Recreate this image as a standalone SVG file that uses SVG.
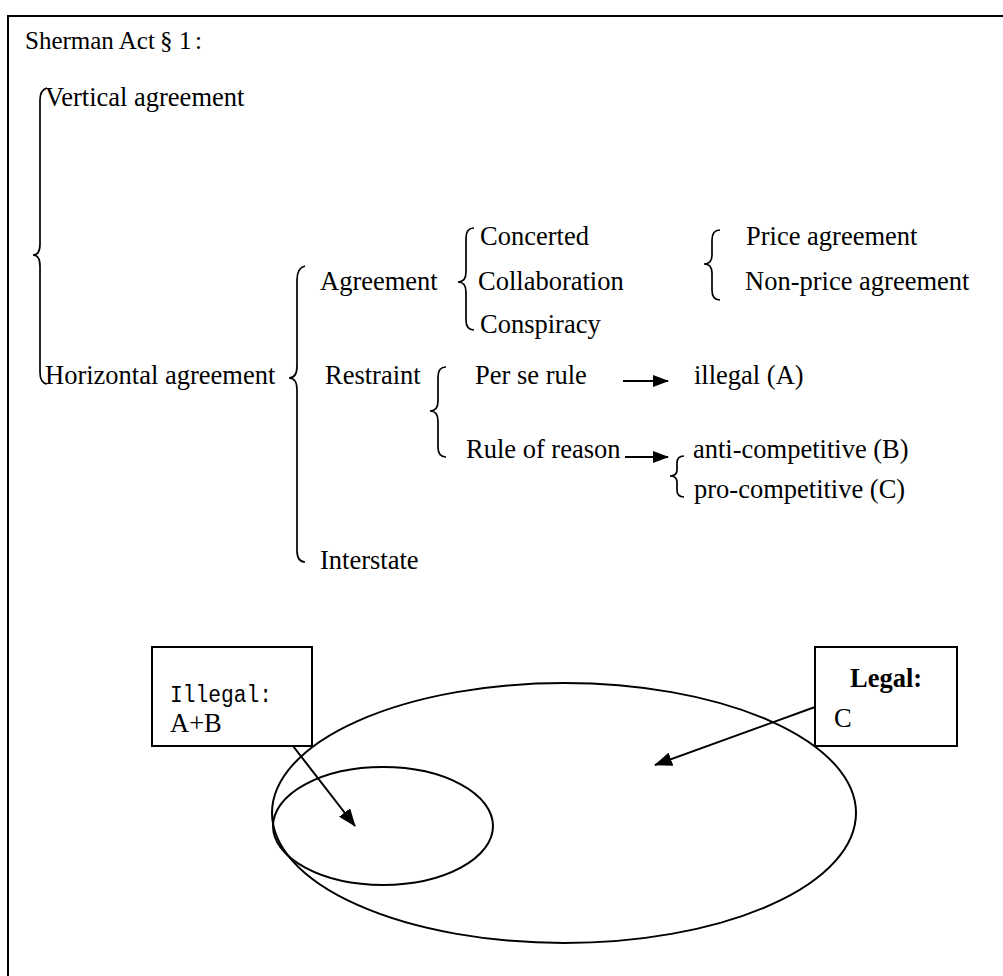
<svg xmlns="http://www.w3.org/2000/svg" width="1003" height="976" viewBox="0 0 1003 976">
<defs>
<style>
.t{font-family:"Liberation Serif","Times New Roman",serif;font-size:26.5px;fill:#000}
.ti{font-family:"Liberation Serif","Times New Roman",serif;font-size:25px;fill:#000}
.m{font-family:"Liberation Mono","Courier New",monospace;font-size:23px;fill:#000}
.b{font-weight:bold}
.s{fill:none;stroke:#000;stroke-width:2}
.br{fill:none;stroke:#000;stroke-width:1.7}
</style>
<marker id="ah" viewBox="0 0 16 12" refX="15" refY="6" markerWidth="16" markerHeight="12" orient="auto" markerUnits="userSpaceOnUse">
<path d="M0,0 L16,6 L0,12 z" fill="#000"/>
</marker>
<marker id="ahl" viewBox="0 0 18 14" refX="17" refY="7" markerWidth="18" markerHeight="14" orient="auto" markerUnits="userSpaceOnUse">
<path d="M0,0 L18,7 L0,14 z" fill="#000"/>
</marker>
</defs>
<rect width="1003" height="976" fill="#fff"/>
<g id="frame">
<path class="s" d="M8,976 L8,16 L1003,16"/>
</g>
<g id="title"><text class="ti" y="49"><tspan x="25">Sherman Act</tspan><tspan x="160">§</tspan><tspan x="179">1</tspan><tspan x="195">:</tspan></text></g>
<g id="braces">
<path class="br" d="M47,88 Q40,90 40,100 L40,244 Q40,255 33,255 Q40,255 40,266 L40,372 Q40,383 47,384"/>
<path class="br" d="M305,266 Q297,268 297,280 L297,366 Q297,378 289,378 Q297,378 297,390 L297,550 Q297,562 305,562"/>
<path class="br" d="M474,228 Q466,228 466,238 L466,272 Q466,282 458,282 Q466,282 466,292 L466,320 Q466,330 474,330"/>
<path class="br" d="M720,230 Q712,230 712,240 L712,255 Q712,264 704,264 Q712,264 712,273 L712,290 Q712,300 720,300"/>
<path class="br" d="M446,367 Q438,367 438,377 L438,401 Q438,411 430,411 Q438,411 438,421 L438,447 Q438,457 446,457"/>
<path class="br" d="M684,456 Q677,456 677,463 L677,470 Q677,476 670,476 Q677,476 677,482 L677,490 Q677,497 684,497"/>
</g>
<g id="n-vertical"><text class="t" x="45" y="106">Vertical agreement</text></g>
<g id="n-horizontal"><text class="t" x="45" y="384">Horizontal agreement</text></g>
<g id="n-agreement"><text class="t" x="320" y="290">Agreement</text></g>
<g id="n-concerted"><text class="t" x="480" y="245">Concerted</text></g>
<g id="n-collaboration"><text class="t" x="478" y="290">Collaboration</text></g>
<g id="n-conspiracy"><text class="t" x="480" y="333">Conspiracy</text></g>
<g id="n-price"><text class="t" x="746" y="245">Price agreement</text></g>
<g id="n-nonprice"><text class="t" x="745" y="290">Non-price agreement</text></g>
<g id="n-restraint"><text class="t" x="325" y="384">Restraint</text></g>
<g id="n-perse"><text class="t" x="475" y="384">Per se rule</text></g>
<g id="n-illegalA"><text class="t" x="694" y="384">illegal (A)</text></g>
<g id="n-reason"><text class="t" x="466" y="458">Rule of reason</text></g>
<g id="n-anti"><text class="t" x="693" y="458">anti-competitive (B)</text></g>
<g id="n-pro"><text class="t" x="694" y="498">pro-competitive (C)</text></g>
<g id="n-interstate"><text class="t" x="320" y="569">Interstate</text></g>
<g id="ellipses">
<ellipse class="s" cx="564" cy="813" rx="292" ry="130"/>
<ellipse class="s" cx="383" cy="826" rx="110" ry="59"/>
</g>
<g id="box-illegal">
<rect class="s" x="152" y="647" width="160" height="99"/>
<text class="m" x="170" y="702" textLength="102" lengthAdjust="spacingAndGlyphs">Illegal:</text>
<text class="t" x="170" y="732">A+B</text>
</g>
<g id="box-legal">
<rect class="s" x="815" y="647" width="142" height="99"/>
<text class="t b" x="850" y="687">Legal:</text>
<text class="t" x="834" y="727">C</text>
</g>
<g id="connectors">
<line class="s" x1="623" y1="381" x2="668" y2="381" marker-end="url(#ah)"/>
<line class="s" x1="625" y1="457" x2="668" y2="457" marker-end="url(#ah)"/>
<line class="s" x1="293" y1="746" x2="355" y2="826" marker-end="url(#ahl)"/>
<line class="s" x1="815" y1="707" x2="655" y2="765" marker-end="url(#ahl)"/>
</g>
</svg>
